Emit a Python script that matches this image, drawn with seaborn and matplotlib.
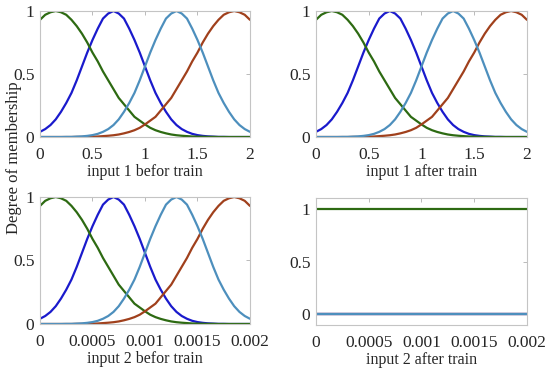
import numpy as np
import pandas as pd
import seaborn as sns
import matplotlib
import matplotlib.pyplot as plt

x_input1 = np.round(np.arange(41) * 0.05, 2)
mf_green = [0.93, 0.97, 0.99, 1.00, 0.99, 0.97, 0.93, 0.88, 0.82, 0.75, 0.67,
            0.60, 0.52, 0.45, 0.38, 0.31, 0.26, 0.21, 0.16, 0.13, 0.10,
            0.073, 0.054, 0.040, 0.029, 0.020, 0.014, 0.010, 0.007, 0.004, 0.003,
            0.002, 0.001, 0.001, 0.0, 0.0, 0.0, 0.0, 0.0, 0.0, 0.0]
mf_blue = [0.041, 0.063, 0.095, 0.14, 0.20, 0.27, 0.35, 0.45, 0.56, 0.67, 0.77,
           0.86, 0.94, 0.98, 1.00, 0.98, 0.94, 0.86, 0.77, 0.67, 0.56,
           0.45, 0.35, 0.27, 0.20, 0.14, 0.095, 0.063, 0.041, 0.025, 0.015,
           0.009, 0.005, 0.003, 0.001, 0.001, 0.0, 0.0, 0.0, 0.0, 0.0]
mf_cyan = [0.0, 0.0, 0.0, 0.0, 0.0, 0.001, 0.001, 0.003, 0.005, 0.009, 0.015,
           0.025, 0.041, 0.063, 0.095, 0.14, 0.20, 0.27, 0.35, 0.45, 0.56,
           0.67, 0.77, 0.86, 0.94, 0.98, 1.00, 0.98, 0.94, 0.86, 0.77,
           0.67, 0.56, 0.45, 0.35, 0.27, 0.20, 0.14, 0.095, 0.063, 0.041]
mf_red = [0.0, 0.0, 0.0, 0.0, 0.0, 0.0, 0.0, 0.001, 0.001, 0.002, 0.003,
          0.004, 0.007, 0.010, 0.014, 0.020, 0.029, 0.040, 0.054, 0.073, 0.10,
          0.13, 0.16, 0.21, 0.26, 0.31, 0.38, 0.45, 0.52, 0.60, 0.67,
          0.75, 0.82, 0.88, 0.93, 0.97, 0.99, 1.00, 0.99, 0.97, 0.93]

# input 2 after training collapses to constant memberships
x_flat = [0.0, 0.002]
flat_green = [1.0, 1.0]
flat_blue = [0.0, 0.0]
flat_red = [0.0, 0.0]
flat_cyan = [0.0, 0.0]

x1_ticks = [0, 0.5, 1, 1.5, 2]
x1_labels = ['0', '0.5', '1', '1.5', '2']
x2_ticks = [0, 0.0005, 0.001, 0.0015, 0.002]
x2_labels = ['0', '0.0005', '0.001', '0.0015', '0.002']
y_ticks = [0, 0.5, 1]
y_labels = ['0', '0.5', '1']
titles = ['input 1 befor train', 'input 1 after train',
          'input 2 befor train', 'input 2 after train']

# draw order: blue, green, red, cyan (cyan ends up on top along zero)
mf_names = ['mf2', 'mf1', 'mf3', 'mf4']
palette = {'mf1': '#2d6a12', 'mf2': '#1a1acc', 'mf3': '#a0401c', 'mf4': '#4d8fbd'}


def long_df(x, g, b, c, r):
    parts = []
    for name, vals in zip(['mf1', 'mf2', 'mf4', 'mf3'], [g, b, c, r]):
        parts.append(pd.DataFrame({'x': x, 'y': vals, 'mf': name}))
    return pd.concat(parts, ignore_index=True)


sns.set_style('white')
plt.rcParams['font.family'] = ['Liberation Serif', 'DejaVu Serif']
matplotlib.rcParams['font.size'] = 12

fig = plt.figure(figsize=(5.5, 3.69), dpi=100)
pos = [[0.0727, 0.6287, 0.3818, 0.3415],
       [0.5745, 0.6287, 0.3836, 0.3415],
       [0.0727, 0.1220, 0.3818, 0.3441],
       [0.5745, 0.1192, 0.3836, 0.3442]]

frames = [long_df(x_input1, mf_green, mf_blue, mf_cyan, mf_red),
          long_df(x_input1, mf_green, mf_blue, mf_cyan, mf_red),
          long_df(x_input1 * 0.001, mf_green, mf_blue, mf_cyan, mf_red),
          long_df(x_flat, flat_green, flat_blue, flat_cyan, flat_red)]

for i in range(4):
    ax = fig.add_axes(pos[i])
    sns.lineplot(data=frames[i], x='x', y='y', hue='mf', hue_order=mf_names,
                 palette=palette, linewidth=1.6, legend=False, ax=ax,
                 estimator=None, sort=False)
    if i < 2:
        ax.set_xlim(0, 2)
        ax.set_xticks(x1_ticks)
        ax.set_xticklabels(x1_labels)
    else:
        ax.set_xlim(0, 0.002)
        ax.set_xticks(x2_ticks)
        ax.set_xticklabels(x2_labels)
    if i == 3:
        ax.set_ylim(-0.1, 1.1)
    else:
        ax.set_ylim(0, 1)
    ax.set_yticks(y_ticks)
    ax.set_yticklabels(y_labels)
    ax.set_xlabel(titles[i], fontsize=11.5, labelpad=1)
    ax.set_ylabel('')
    for sp in ax.spines.values():
        sp.set_color('#c4c4c4')
        sp.set_linewidth(0.8)
    ax.tick_params(direction='in', length=3, width=0.6, color='#b0b0b0',
                   labelsize=12.5, top=True, right=True, pad=4)
    ax.tick_params(axis='x', pad=7)

fig.text(0.026, 0.572, 'Degree of membership', rotation=90, fontsize=12,
         ha='center', va='center')

fig.savefig('out.png', dpi=100)
